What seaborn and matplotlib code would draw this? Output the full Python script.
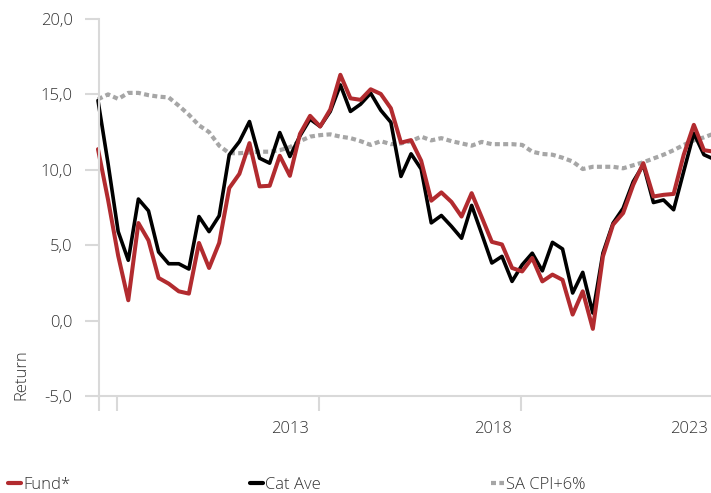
import numpy as np
import pandas as pd
import matplotlib.pyplot as plt
import seaborn as sns
from matplotlib.lines import Line2D
from matplotlib.patches import Rectangle
from matplotlib.ticker import FuncFormatter, FixedLocator

# quarterly rolling returns
fund = [11.37, 8.0, 4.3, 1.35, 6.47, 5.32, 2.83, 2.45, 1.94, 1.79,
        5.15, 3.49, 5.15, 8.79, 9.73, 11.77, 8.9, 8.94, 10.93, 9.6,
        12.38, 13.58, 12.87, 14.0, 16.3, 14.74, 14.64, 15.34, 15.03, 14.08,
        11.8, 11.97, 10.6, 7.95, 8.5, 7.87, 6.9, 8.45, 6.85, 5.22,
        5.05, 3.49, 3.26, 4.15, 2.6, 3.05, 2.7, 0.4, 1.94, -0.55,
        4.26, 6.36, 7.13, 9.0, 10.44, 8.23, 8.34, 8.4, 11.0, 12.98,
        11.3, 11.2]
cat_ave = [14.6, 10.4, 5.9, 4.0, 8.06, 7.28, 4.55, 3.77, 3.77, 3.42,
           6.9, 5.9, 6.95, 11.0, 11.87, 13.2, 10.77, 10.44, 12.47, 10.88,
           12.25, 13.36, 12.87, 13.87, 15.63, 13.87, 14.35, 15.08, 13.95, 13.15,
           9.56, 11.06, 10.05, 6.48, 6.97, 6.25, 5.46, 7.64, 5.75, 3.82,
           4.26, 2.6, 3.7, 4.47, 3.3, 5.19, 4.75, 1.83, 3.2, 0.5,
           4.48, 6.46, 7.45, 9.22, 10.33, 7.83, 8.0, 7.35, 9.9, 12.43,
           11.0, 10.7]
cpi6 = [14.68, 15.0, 14.7, 15.1, 15.1, 14.95, 14.85, 14.8, 14.25, 13.65,
        12.95, 12.5, 11.6, 11.1, 11.1, 11.15, 11.2, 11.2, 11.3, 11.5,
        11.9, 12.2, 12.3, 12.35, 12.2, 12.1, 11.9, 11.65, 11.9, 11.7,
        11.75, 11.9, 12.2, 11.95, 12.1, 11.9, 11.75, 11.6, 11.85, 11.7,
        11.7, 11.7, 11.65, 11.2, 11.05, 11.0, 10.8, 10.55, 10.05, 10.2,
        10.2, 10.2, 10.1, 10.3, 10.5, 10.75, 11.0, 11.3, 11.65, 11.95,
        12.15, 12.4]
years = ["2013", "2018", "2023"]

df = pd.DataFrame({"q": np.arange(len(fund)), "Fund*": fund,
                   "Cat Ave": cat_ave, "SA CPI+6%": cpi6})

sns.set_theme(style="white")
plt.rcParams["font.family"] = ["Open Sans", "DejaVu Sans"]
plt.rcParams["font.weight"] = "light"
txt = "#333333"
axc = "#d9d9d9"
red = "#b22b2f"
grey = "#a6a6a6"

fig = plt.figure(figsize=(7.11, 4.93), dpi=100)
ax = fig.add_axes([99 / 711, 97 / 493, 612 / 711, 377 / 493])

sns.lineplot(data=df, x="q", y="SA CPI+6%", ax=ax, color=grey, lw=3.0,
             linestyle=(0, (1.2, 0.8)))
ax.lines[-1].set_dash_capstyle("butt")
sns.lineplot(data=df, x="q", y="Cat Ave", ax=ax, color="black", lw=2.6)
sns.lineplot(data=df, x="q", y="Fund*", ax=ax, color=red, lw=2.9)

# let the series start a hair left of the axis line, but clip on the right
clip = Rectangle((-0.01, -0.05), 1.01, 1.1, transform=ax.transAxes)
for ln in ax.lines:
    ln.set_clip_path(clip)

ax.set_xlim(0.1, 60.7)
ax.set_ylim(-5, 20)
ax.set_yticks([-5, 0, 5, 10, 15, 20])
ax.yaxis.set_major_formatter(FuncFormatter(lambda v, p: f"{v:.1f}".replace(".", ",")))

# tick marks every 20 quarters, year labels a little to the left of them
ax.xaxis.set_major_locator(FixedLocator([0.1, 1.9, 21.9, 41.9, 61.9]))
ax.xaxis.set_minor_locator(FixedLocator([19.0, 39.1, 58.5]))
ax.xaxis.set_major_formatter(FuncFormatter(lambda v, p: ""))
ax.xaxis.set_minor_formatter(FuncFormatter(lambda v, p: years[p] if p < len(years) else ""))
ax.tick_params(axis="x", which="major", length=11, width=1.5, color=axc, direction="out")
ax.tick_params(axis="x", which="minor", length=0, pad=18, labelsize=12, labelcolor=txt)
ax.tick_params(axis="y", length=10, width=1.5, color=axc, pad=9, labelsize=12, labelcolor=txt)
ax.tick_params(bottom=True, left=True, which="both")

for s in ["top", "right"]:
    ax.spines[s].set_visible(False)
for s in ["left", "bottom"]:
    ax.spines[s].set_color(axc)
    ax.spines[s].set_linewidth(1.5)

ax.set_xlabel("")
ax.set_ylabel("")
fig.text(21 / 711, (493 - 375) / 493, "Return", rotation=90, ha="center", va="center",
         fontsize=12, color=txt)

# legend entries spread along the bottom
entries = [("Fund*", dict(color=red, lw=3.0), 8),
           ("Cat Ave", dict(color="black", lw=3.0), 250),
           ("SA CPI+6%", dict(color=grey, lw=3.0, linestyle=(0, (1.2, 0.8))), 491)]
for label, kw, x0 in entries:
    h = Line2D([], [], **kw)
    fig.legend(handles=[h], labels=[label], loc="center left",
               bbox_to_anchor=(x0 / 711, (493 - 485) / 493), frameon=False,
               borderpad=0, borderaxespad=0, handlelength=0.75, handletextpad=0.15,
               fontsize=12, labelcolor=txt)

fig.savefig("out.png", dpi=100)
